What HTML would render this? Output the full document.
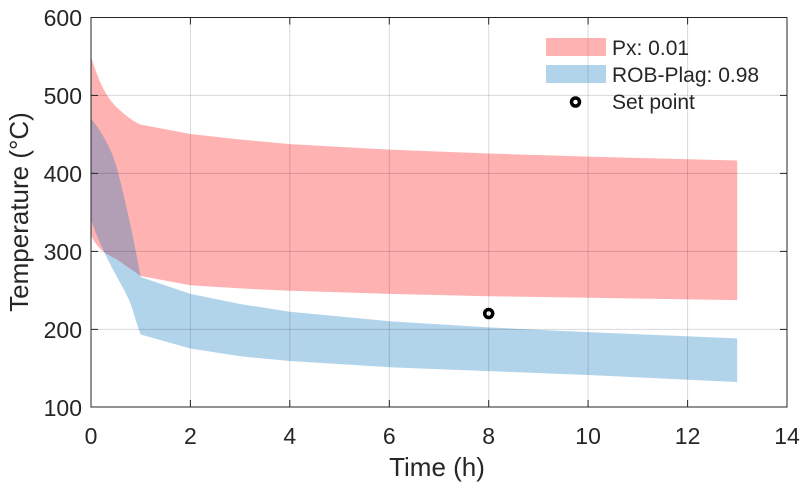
<!DOCTYPE html>
<html><head><meta charset="utf-8"><style>body{margin:0;background:#fff}svg{display:block}text{font-family:"Liberation Sans",sans-serif;fill:#262626}</style></head>
<body>
<svg width="809" height="488" viewBox="0 0 809 488">
<rect width="809" height="488" fill="#fff"/>
<path fill="#ff6666" fill-opacity="0.5" d="M91,56 C98,80 105,95 116,106.7 C124,114 132,121 140.7,124.6 L190.4,134 L240.1,139.5 L289.8,144.1 L389.3,149.6 L488.7,153.5 L588.1,156.6 L737.2,160.5 L737.2,300.1 L588.1,297.8 L488.7,296.2 L389.3,293.9 L289.8,290.8 L240.1,288.4 L190.4,285.3 L140.7,276 L115.9,258.8 C105,254 97,248 91,235.4 Z"/>
<path fill="#0072bd" fill-opacity="0.3" d="M91,118.4 C100,130 110,145 116,165 C123,190 132,230 140.7,277 L190.4,293.9 L240.1,304 L289.8,311.8 L389.3,321.2 L488.7,327.4 L588.1,332.1 L737.2,338.4 L737.2,382 L588.1,375 L488.7,371.1 L389.3,367.2 L289.8,361 L240.1,356.3 L190.4,348.5 L140.7,334.5 C135,320 132,305 128,298 C120,280 105,260 91,219.8 Z"/>
<g stroke="#000" stroke-opacity="0.15" stroke-width="1">
<line x1="190.4" y1="17.5" x2="190.4" y2="407"/><line x1="289.8" y1="17.5" x2="289.8" y2="407"/><line x1="389.3" y1="17.5" x2="389.3" y2="407"/><line x1="488.7" y1="17.5" x2="488.7" y2="407"/><line x1="588.1" y1="17.5" x2="588.1" y2="407"/><line x1="687.6" y1="17.5" x2="687.6" y2="407"/>
<line x1="91" y1="95.4" x2="787" y2="95.4"/><line x1="91" y1="173.4" x2="787" y2="173.4"/><line x1="91" y1="251.4" x2="787" y2="251.4"/><line x1="91" y1="329.4" x2="787" y2="329.4"/>
</g>
<rect x="91" y="17.5" width="696" height="389.5" fill="none" stroke="#262626" stroke-width="1"/>
<g stroke="#262626">
<line x1="91" y1="95.4" x2="98" y2="95.4"/><line x1="91" y1="173.4" x2="98" y2="173.4"/><line x1="91" y1="251.4" x2="98" y2="251.4"/><line x1="91" y1="329.4" x2="98" y2="329.4"/>
<line x1="780" y1="95.4" x2="787" y2="95.4"/><line x1="780" y1="173.4" x2="787" y2="173.4"/><line x1="780" y1="251.4" x2="787" y2="251.4"/><line x1="780" y1="329.4" x2="787" y2="329.4"/>
<line x1="190.4" y1="407" x2="190.4" y2="400"/><line x1="289.8" y1="407" x2="289.8" y2="400"/><line x1="389.3" y1="407" x2="389.3" y2="400"/><line x1="488.7" y1="407" x2="488.7" y2="400"/><line x1="588.1" y1="407" x2="588.1" y2="400"/><line x1="687.6" y1="407" x2="687.6" y2="400"/>
<line x1="190.4" y1="17.5" x2="190.4" y2="24.5"/><line x1="289.8" y1="17.5" x2="289.8" y2="24.5"/><line x1="389.3" y1="17.5" x2="389.3" y2="24.5"/><line x1="488.7" y1="17.5" x2="488.7" y2="24.5"/><line x1="588.1" y1="17.5" x2="588.1" y2="24.5"/><line x1="687.6" y1="17.5" x2="687.6" y2="24.5"/>
</g>
<circle cx="488.7" cy="313.5" r="4" fill="none" stroke="#000" stroke-width="3.5"/>
<g font-size="23" text-anchor="end">
<text x="82" y="26">600</text><text x="82" y="104">500</text><text x="82" y="182">400</text><text x="82" y="260">300</text><text x="82" y="338">200</text><text x="82" y="416">100</text>
</g>
<g font-size="23" text-anchor="middle">
<text x="91" y="444">0</text><text x="190.4" y="444">2</text><text x="289.8" y="444">4</text><text x="389.3" y="444">6</text><text x="488.7" y="444">8</text><text x="588.1" y="444">10</text><text x="687.6" y="444">12</text><text x="787" y="444">14</text>
</g>
<text x="437" y="476" font-size="26" text-anchor="middle">Time (h)</text>
<text transform="translate(28,212) rotate(-90)" font-size="26" text-anchor="middle">Temperature (°C)</text>
<rect x="546" y="38" width="60" height="18" fill="#ff6666" fill-opacity="0.5"/>
<rect x="546" y="65" width="60" height="18" fill="#0072bd" fill-opacity="0.3"/>
<circle cx="575.5" cy="102" r="4" fill="none" stroke="#000" stroke-width="3.5"/>
<g font-size="21"><text x="612" y="55">Px: 0.01</text><text x="612" y="82">ROB-Plag: 0.98</text><text x="612" y="109">Set point</text></g>
</svg>
</body></html>
